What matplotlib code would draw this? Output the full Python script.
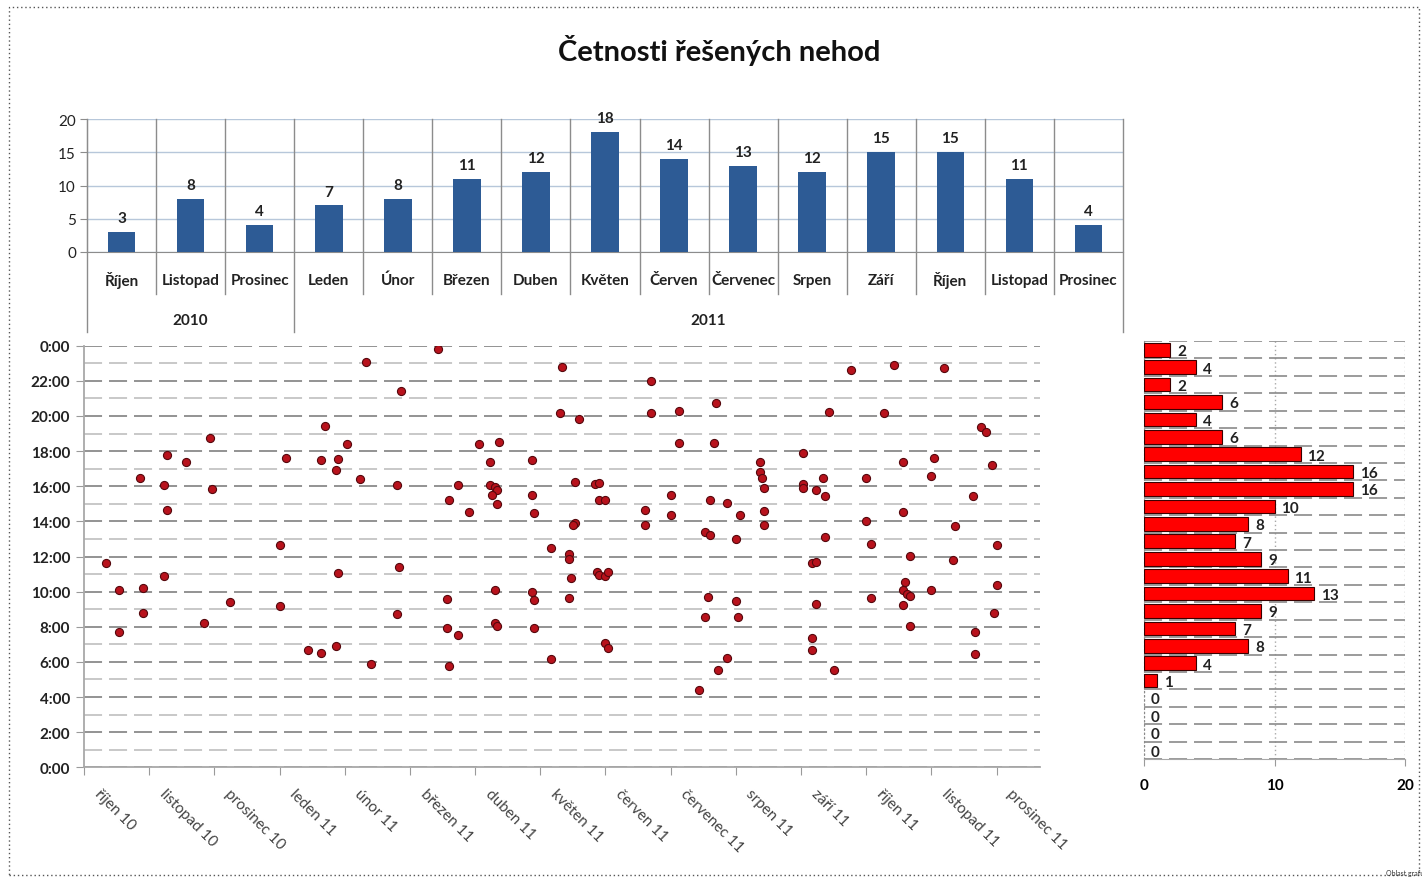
import datetime as dt
import numpy as np
import matplotlib
matplotlib.use('Agg')
import matplotlib.pyplot as plt
import matplotlib.dates as mdates
import matplotlib.transforms as mtransforms
from matplotlib.patches import Rectangle

plt.rcParams['font.family'] = ['Lato', 'DejaVu Sans']
plt.rcParams['lines.scale_dashes'] = False

# --- horní graf: počty po měsících ---
mesice = ['Říjen', 'Listopad', 'Prosinec', 'Leden', 'Únor', 'Březen', 'Duben', 'Květen',
          'Červen', 'Červenec', 'Srpen', 'Září', 'Říjen', 'Listopad', 'Prosinec']
roky = ['2010', '2011']
mesicu_v_roce = [3, 12]
pocet_mesic = [3, 8, 4, 7, 8, 11, 12, 18, 14, 13, 12, 15, 15, 11, 4]

# --- pravý graf: počty po hodinách (0:00-1:00 ... 23:00-24:00) ---
hodiny = list(range(24))
pocet_hodina = [0, 0, 0, 0, 1, 4, 8, 7, 9, 13, 11, 9, 7, 8, 10, 16, 16, 12, 6, 4, 6, 2, 4, 2]

# --- bodový graf: datum a čas nehody ---
datumy = [
    '2010-10-19', '2010-10-25', '2010-10-25',
    '2010-11-04', '2010-11-05', '2010-11-05', '2010-11-15', '2010-11-16', '2010-11-16', '2010-11-15', '2010-11-25',
    '2010-12-06', '2010-12-07', '2010-12-03', '2010-12-15',
    '2011-01-07', '2011-01-07', '2011-01-10', '2011-01-20', '2011-01-26', '2011-01-26', '2011-01-28',
    '2011-02-02', '2011-02-02', '2011-02-03', '2011-02-03', '2011-02-07', '2011-02-13', '2011-02-16', '2011-02-18',
    '2011-03-02', '2011-03-03', '2011-03-02', '2011-03-04', '2011-03-21', '2011-03-26', '2011-03-30', '2011-03-25',
    '2011-03-25', '2011-03-30', '2011-03-26',
    '2011-04-04', '2011-04-09', '2011-04-18', '2011-04-14', '2011-04-14', '2011-04-16', '2011-04-17', '2011-04-15',
    '2011-04-17', '2011-04-16', '2011-04-16', '2011-04-17',
    '2011-05-03', '2011-05-03', '2011-05-04', '2011-05-03', '2011-05-04', '2011-05-04', '2011-05-12', '2011-05-12',
    '2011-05-16', '2011-05-17', '2011-05-25', '2011-05-23', '2011-05-23', '2011-05-22', '2011-05-20', '2011-05-20',
    '2011-05-21', '2011-05-20',
    '2011-06-01', '2011-06-03', '2011-06-03', '2011-06-06', '2011-06-02', '2011-06-03', '2011-06-06', '2011-06-07',
    '2011-06-06', '2011-06-07', '2011-06-24', '2011-06-24', '2011-06-27', '2011-06-27',
    '2011-07-06', '2011-07-06', '2011-07-10', '2011-07-10', '2011-07-27', '2011-07-26', '2011-07-24', '2011-07-22',
    '2011-07-24', '2011-07-23', '2011-07-22', '2011-07-19', '2011-07-28',
    '2011-08-01', '2011-08-01', '2011-08-07', '2011-08-05', '2011-08-05', '2011-08-06', '2011-08-16', '2011-08-16',
    '2011-08-17', '2011-08-18', '2011-08-18', '2011-08-18',
    '2011-09-05', '2011-09-05', '2011-09-05', '2011-09-11', '2011-09-14', '2011-09-15', '2011-09-15', '2011-09-17',
    '2011-09-09', '2011-09-11', '2011-09-11', '2011-09-09', '2011-09-09', '2011-09-19', '2011-09-27',
    '2011-10-04', '2011-10-04', '2011-10-06', '2011-10-06', '2011-10-12', '2011-10-17', '2011-10-21', '2011-10-21',
    '2011-10-24', '2011-10-22', '2011-10-21', '2011-10-23', '2011-10-24', '2011-10-21', '2011-10-24',
    '2011-11-03', '2011-11-03', '2011-11-04', '2011-11-09', '2011-11-14', '2011-11-13', '2011-11-22', '2011-11-26',
    '2011-11-28', '2011-11-23', '2011-11-23',
    '2011-12-01', '2011-12-03', '2011-12-03', '2011-12-02',
]
casy = [
    '11:37', '10:05', '7:43',
    '16:28', '10:14', '8:48', '16:03', '17:48', '14:40', '10:53', '17:23',
    '18:46', '15:49', '8:12', '9:23',
    '12:40', '9:12', '17:37', '6:42', '6:31', '17:31', '19:25',
    '6:56', '16:55', '17:33', '11:03', '18:25', '16:25', '23:05', '5:52',
    '16:03', '11:23', '8:44', '21:26', '23:49', '15:13', '16:05', '9:35', '7:55', '7:32', '5:47',
    '14:33', '18:25', '18:32', '17:23', '16:03', '15:56', '15:47', '15:31', '14:59', '10:04', '8:13', '8:02',
    '17:28', '15:31', '14:30', '9:58', '9:32', '7:55', '12:28', '6:10', '20:09', '22:47', '19:51', '16:14',
    '13:55', '13:46', '12:07', '11:50', '10:47', '9:38',
    '16:08', '16:12', '15:13', '15:13', '11:06', '10:57', '10:52', '11:06', '7:05', '6:46', '14:40', '13:48',
    '22:01', '20:09',
    '15:30', '14:22', '20:18', '18:28', '20:44', '18:28', '15:13', '13:23', '13:15', '9:41', '8:32', '4:24', '5:32',
    '6:13', '15:02', '14:23', '13:00', '9:28', '8:32', '17:24', '16:49', '16:29', '15:54', '14:34', '13:48',
    '17:53', '16:08', '15:53', '15:47', '16:29', '15:25', '13:08', '20:13', '11:37', '11:40', '9:17', '7:22',
    '6:42', '5:32', '22:37',
    '16:28', '14:00', '12:43', '9:38', '20:11', '22:54', '17:23', '14:33', '12:03', '10:32', '10:04', '9:52',
    '9:46', '9:14', '8:02',
    '10:05', '16:36', '17:37', '22:44', '13:44', '11:48', '15:25', '19:21', '19:04', '7:43', '6:27',
    '17:11', '12:40', '10:23', '8:48',
]
osa_od = '2010-10-09'
osa_do = '2011-12-23'
krok_dni = 30
popisky_x = ['říjen 10', 'listopad 10', 'prosinec 10', 'leden 11', 'únor 11', 'březen 11', 'duben 11',
             'květen 11', 'červen 11', 'červenec 11', 'srpen 11', 'září 11', 'říjen 11', 'listopad 11',
             'prosinec 11']

W, H = 1422, 879
fig = plt.figure(figsize=(W / 100, H / 100), dpi=100)
fig.patch.set_facecolor('white')

def box(l, t, r, b):
    return [l / W, 1 - b / H, (r - l) / W, (b - t) / H]

fig.text(719 / W, 1 - 50 / H, 'Četnosti řešených nehod', ha='center', va='center',
         fontsize=21, fontweight='bold', color='#111111')

# ---------- horní sloupcový graf ----------
ax1 = fig.add_axes(box(87, 120, 1123, 253))
x = np.arange(len(mesice))
ax1.bar(x, pocet_mesic, width=0.4, color='#2d5b95', zorder=3)
ax1.set_xlim(-0.5, len(mesice) - 0.5)
ax1.set_ylim(0, 20)
ax1.set_yticks([0, 5, 10, 15, 20])
ax1.yaxis.grid(True, color='#b7c7da', lw=1)
ax1.set_axisbelow(True)
for s in ['top', 'right']:
    ax1.spines[s].set_visible(False)
ax1.spines['left'].set_color('#8c8c8c')
ax1.spines['bottom'].set_color('#8c8c8c')
ax1.set_xticks([])
ax1.tick_params(axis='y', length=5, color='#8c8c8c', labelsize=11, labelcolor='#222222', pad=3)
for xi, v in zip(x, pocet_mesic):
    ax1.annotate(str(v), (xi, v), xytext=(0, 5), textcoords='offset points', ha='center',
                 va='bottom', fontsize=11, fontweight='bold', color='#222222')

tr = mtransforms.blended_transform_factory(ax1.transData, ax1.transAxes)
hranice_roku = np.cumsum([0] + mesicu_v_roce)
for k in range(len(mesice) + 1):
    spodek = -0.60 if k in hranice_roku else -0.315
    ax1.plot([k - 0.5, k - 0.5], [spodek, 1], transform=tr, color='#8c8c8c', lw=1, clip_on=False, zorder=1)
for xi, m in zip(x, mesice):
    ax1.text(xi, -0.21, m, transform=tr, ha='center', va='center', fontsize=11,
             fontweight='bold', color='#222222')
for i, r in enumerate(roky):
    stred = (hranice_roku[i] + hranice_roku[i + 1] - 1) / 2
    ax1.text(stred, -0.51, r, transform=tr, ha='center', va='center', fontsize=11,
             fontweight='bold', color='#222222')

# ---------- bodový graf ----------
ax2 = fig.add_axes(box(84, 346.7, 1040, 768.3))
xs = mdates.date2num([dt.datetime.strptime(d, '%Y-%m-%d') for d in datumy])
ys = [int(c.split(':')[0]) + int(c.split(':')[1]) / 60 for c in casy]
ax2.scatter(xs, ys, s=34, color='#b8121c', edgecolors='#55080d', linewidths=0.8, zorder=3)
x0 = mdates.date2num(dt.datetime.strptime(osa_od, '%Y-%m-%d'))
x1 = mdates.date2num(dt.datetime.strptime(osa_do, '%Y-%m-%d'))
ax2.set_xlim(x0, x1)
ax2.set_ylim(0, 24)
ax2.set_yticks(range(0, 25, 2))
ax2.set_yticklabels([f'{h % 24}:00' for h in range(0, 25, 2)])
ax2.set_yticks(range(1, 24, 2), minor=True)
ax2.yaxis.grid(True, which='major', color='#8a8a8a', lw=1.3, ls=(0, (13, 5)))
ax2.yaxis.grid(True, which='minor', color='#c4c4c4', lw=1.3, ls=(0, (13, 5)))
pozice_x = [x0 + krok_dni * k for k in range(len(popisky_x))]
ax2.set_xticks(pozice_x)
ax2.set_xticklabels([])
for px, lab in zip(pozice_x, popisky_x):
    ax2.annotate(lab, (px, 0), xycoords=('data', 'axes fraction'), xytext=(9, -17),
                 textcoords='offset points', rotation=-45, rotation_mode='anchor',
                 ha='left', va='center', fontsize=11, color='#444444', annotation_clip=False)
ax2.tick_params(axis='x', length=6, color='#9a9a9a')
ax2.tick_params(axis='y', which='major', length=6, color='#9a9a9a', labelsize=11,
                labelcolor='#222222', pad=4)
ax2.tick_params(axis='y', which='minor', length=0)
for t in ax2.get_yticklabels():
    t.set_fontweight('bold')
for s in ['top', 'right']:
    ax2.spines[s].set_visible(False)
ax2.spines['left'].set_color('#a8a8a8')
ax2.spines['bottom'].set_color('#a8a8a8')
ax2.spines['left'].set_linewidth(1.3)
ax2.spines['bottom'].set_linewidth(1.3)

# ---------- pravý histogram po hodinách ----------
ax3 = fig.add_axes(box(1144, 342, 1405, 760))
yh = np.array(hodiny) + 0.5
ax3.barh(yh, pocet_hodina, height=0.78, color='#ff0000', edgecolor='#3a0000',
         lw=[0.8 if v else 0 for v in pocet_hodina], zorder=3)
ax3.set_xlim(0, 20)
ax3.set_ylim(0, 24)
ax3.set_xticks([0, 10, 20])
ax3.set_yticks(range(0, 25))
ax3.set_yticklabels([])
ax3.tick_params(axis='y', length=0)
ax3.tick_params(axis='x', length=5, color='#9a9a9a', labelsize=11, pad=9)
for t in ax3.get_xticklabels():
    t.set_fontweight('bold')
ax3.yaxis.grid(True, color='#8a8a8a', lw=1.2, ls=(0, (13, 5)))
ax3.xaxis.grid(True, color='#a8a8a8', lw=1, ls=(0, (1, 2)))
ax3.set_axisbelow(True)
for s in ['top', 'right']:
    ax3.spines[s].set_visible(False)
ax3.spines['left'].set_linestyle((0, (1, 2)))
ax3.spines['left'].set_color('#8a8a8a')
ax3.spines['bottom'].set_color('#a8a8a8')
for yi, v in zip(yh, pocet_hodina):
    ax3.annotate(str(v), (v, yi), xytext=(5, -1), textcoords='offset points', ha='left', va='center',
                 fontsize=11, fontweight='bold', color='#222222')

# rámeček oblasti grafu
fig.add_artist(Rectangle((9 / W, 3 / H), (1419 - 9) / W, (871 - 3) / H, transform=fig.transFigure,
                         fill=False, ls=(0, (1, 2)), ec='#555555', lw=1))
fig.text(1386 / W, 1 - 874 / H, 'Oblast grafu', fontsize=5, color='#333333', ha='left', va='center')

fig.savefig('out.png', dpi=100)
